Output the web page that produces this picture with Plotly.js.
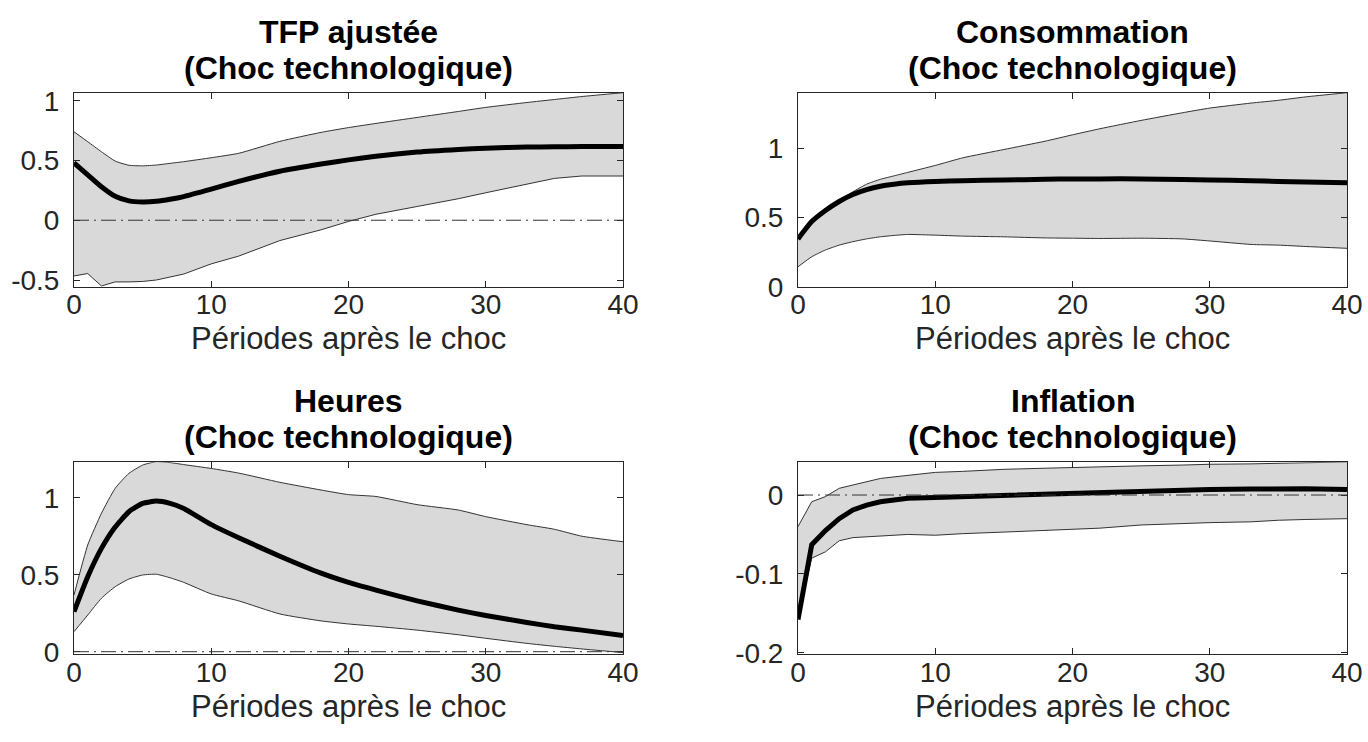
<!DOCTYPE html>
<html>
<head>
<meta charset="utf-8">
<script src="https://cdn.plot.ly/plotly-3.0.1.min.js"></script>
<style>html,body{margin:0;padding:0;background:#fff;}#chart{width:1368px;height:742px;}</style>
</head>
<body>
<div id="chart"></div>
<script>
// Periods after the shock (horizon at which values were read)
const periods = [0,1,2,3,4,5,6,7,8,10,12,15,18,20,22,25,28,30,33,35,37,40];

// Panel titles
const panelTitles = ["TFP ajustée", "Consommation", "Heures", "Inflation"];
const shockName = "(Choc technologique)";
const xLabel = "Périodes après le choc";

// TFP ajustée
const tfpMedian = [0.48,0.38,0.28,0.20,0.162,0.152,0.158,0.175,0.198,0.26,0.325,0.41,0.47,0.505,0.535,0.57,0.592,0.603,0.612,0.615,0.616,0.616];
const tfpUpper  = [0.74,0.657,0.573,0.495,0.46,0.455,0.462,0.476,0.49,0.523,0.56,0.66,0.735,0.775,0.81,0.86,0.91,0.944,0.985,1.01,1.035,1.067];
const tfpLower  = [-0.466,-0.446,-0.55,-0.516,-0.516,-0.512,-0.5,-0.475,-0.45,-0.365,-0.3,-0.17,-0.08,-0.01,0.05,0.115,0.18,0.23,0.305,0.35,0.37,0.37];

// Consommation
const consMedian = [0.345,0.47,0.55,0.615,0.665,0.70,0.725,0.74,0.75,0.76,0.765,0.77,0.775,0.778,0.778,0.778,0.774,0.77,0.765,0.76,0.755,0.75];
const consUpper  = [0.36,0.48,0.56,0.625,0.685,0.74,0.775,0.80,0.825,0.875,0.93,0.99,1.05,1.096,1.14,1.2,1.255,1.289,1.325,1.345,1.37,1.40];
const consLower  = [0.144,0.216,0.265,0.30,0.325,0.345,0.36,0.37,0.377,0.372,0.365,0.36,0.352,0.35,0.348,0.35,0.345,0.33,0.305,0.30,0.29,0.277];

// Heures
const hoursMedian = [0.26,0.487,0.671,0.81,0.909,0.963,0.978,0.963,0.93,0.825,0.74,0.62,0.51,0.45,0.40,0.33,0.27,0.235,0.19,0.162,0.14,0.105];
const hoursUpper  = [0.368,0.693,0.899,1.061,1.158,1.212,1.234,1.228,1.215,1.19,1.16,1.10,1.05,1.02,1.008,0.955,0.92,0.877,0.825,0.795,0.75,0.714];
const hoursLower  = [0.13,0.238,0.347,0.422,0.472,0.498,0.503,0.48,0.45,0.375,0.33,0.245,0.2,0.18,0.165,0.14,0.11,0.087,0.054,0.035,0.018,-0.006];

// Inflation
const inflMedian = [-0.158,-0.063,-0.045,-0.03,-0.019,-0.0127,-0.0085,-0.0055,-0.004,-0.003,-0.002,-0.001,0.002,0.003,0.004,0.0055,0.0065,0.007,0.0075,0.008,0.008,0.007];
const inflUpper  = [-0.04,-0.0085,-0.002,0.0085,0.0127,0.017,0.021,0.023,0.025,0.0287,0.03,0.0326,0.034,0.035,0.036,0.037,0.038,0.039,0.0395,0.040,0.041,0.042];
const inflLower  = [-0.155,-0.08,-0.072,-0.058,-0.054,-0.053,-0.052,-0.051,-0.05,-0.051,-0.049,-0.047,-0.045,-0.044,-0.042,-0.038,-0.036,-0.035,-0.034,-0.032,-0.031,-0.03];

// Tick labels
const xTickVals = [0,10,20,30,40];
const xTickText = ["0","10","20","30","40"];
const tfpTickVals = [-0.5,0,0.5,1];
const tfpTickText = ["-0.5","0","0.5","1"];
const consTickVals = [0,0.5,1];
const consTickText = ["0","0.5","1"];
const hoursTickVals = [0,0.5,1];
const hoursTickText = ["0","0.5","1"];
const inflTickVals = [-0.2,-0.1,0];
const inflTickText = ["-0.2","-0.1","0"];

const panels = [
  {med: tfpMedian, up: tfpUpper, lo: tfpLower, tv: tfpTickVals, tt: tfpTickText, range: [-0.556,1.067], zero: true, smooth: [true, true, false]},
  {med: consMedian, up: consUpper, lo: consLower, tv: consTickVals, tt: consTickText, range: [0,1.4], zero: false, smooth: [true, true, true]},
  {med: hoursMedian, up: hoursUpper, lo: hoursLower, tv: hoursTickVals, tt: hoursTickText, range: [-0.015,1.23], zero: true, smooth: [true, true, true]},
  {med: inflMedian, up: inflUpper, lo: inflLower, tv: inflTickVals, tt: inflTickText, range: [-0.2016,0.0415], zero: true, smooth: [false, false, false]}
];

const W = 1368, H = 742;
// plot boxes in pixels [left, right, top, bottom]
const boxes = [
  [74, 623, 92.7, 286.7],
  [798, 1347, 92.7, 286.7],
  [74, 623, 462.3, 654],
  [798, 1347, 462.3, 654]
];

const axColor = "#262626";
const font = "Liberation Sans, Arial, Helvetica, sans-serif";
const data = [];
const layout = {
  width: W, height: H,
  margin: {l:0, r:0, t:0, b:0},
  paper_bgcolor: "#fff", plot_bgcolor: "#fff",
  showlegend: false,
  font: {family: font, color: axColor},
  annotations: [], shapes: []
};
const shapeOf = s => s ? {shape: "spline", smoothing: 0.5} : {shape: "linear"};

panels.forEach((p, i) => {
  const n = i + 1;
  const xa = n === 1 ? "x" : "x" + n;
  const ya = n === 1 ? "y" : "y" + n;
  const b = boxes[i];
  data.push({x: periods, y: p.lo, xaxis: xa, yaxis: ya, type: "scatter", mode: "lines",
    line: Object.assign({color: "#333", width: 1}, shapeOf(p.smooth[2])), hoverinfo: "skip"});
  data.push({x: periods, y: p.up, xaxis: xa, yaxis: ya, type: "scatter", mode: "lines",
    fill: "tonexty", fillcolor: "#d9d9d9", line: Object.assign({color: "#333", width: 1}, shapeOf(p.smooth[1])), hoverinfo: "skip"});
  data.push({x: periods, y: p.med, xaxis: xa, yaxis: ya, type: "scatter", mode: "lines",
    line: Object.assign({color: "#000", width: 5}, shapeOf(p.smooth[0]))});
  const axBase = {
    showgrid: false, zeroline: false, showline: true, linecolor: axColor, linewidth: 1,
    mirror: "ticks", ticks: "inside", ticklen: 6, tickwidth: 1, tickcolor: axColor,
    tickfont: {family: font, size: 28, color: axColor}
  };
  layout["xaxis" + (n === 1 ? "" : n)] = Object.assign({}, axBase, {
    anchor: ya, domain: [b[0]/W, b[1]/W], range: [0, 40],
    tickmode: "array", tickvals: xTickVals, ticktext: xTickText, ticklabelstandoff: -7
  });
  layout["yaxis" + (n === 1 ? "" : n)] = Object.assign({}, axBase, {
    anchor: xa, domain: [(H-b[3])/H, (H-b[2])/H], range: p.range,
    tickmode: "array", tickvals: p.tv, ticktext: p.tt, ticklabelstandoff: 8
  });
  if (p.zero) {
    layout.shapes.push({type: "line", xref: xa + " domain", yref: ya, x0: 0, x1: 1, y0: 0, y1: 0,
      line: {color: "#333", width: 1, dash: "15px,5px,2px,5px"}, layer: "above"});
  }
  const cx = (b[0] + b[1]) / 2 / W;
  layout.annotations.push({xref: "paper", yref: "paper", x: cx, xanchor: "center", y: (H - b[2] + 61)/H, yanchor: "middle",
    text: "<b>" + panelTitles[i] + "</b>", showarrow: false, font: {family: font, size: 32, color: "#000"}});
  layout.annotations.push({xref: "paper", yref: "paper", x: cx, xanchor: "center", y: (H - b[2] + 25)/H, yanchor: "middle",
    text: "<b>" + shockName + "</b>", showarrow: false, font: {family: font, size: 32, color: "#000"}});
  layout.annotations.push({xref: "paper", yref: "paper", x: cx, xanchor: "center", y: (H - b[3] - 52)/H, yanchor: "middle",
    text: xLabel, showarrow: false, font: {family: font, size: 31, color: axColor}});
});

Plotly.newPlot("chart", data, layout, {displayModeBar: false, staticPlot: true});
</script>
</body>
</html>
